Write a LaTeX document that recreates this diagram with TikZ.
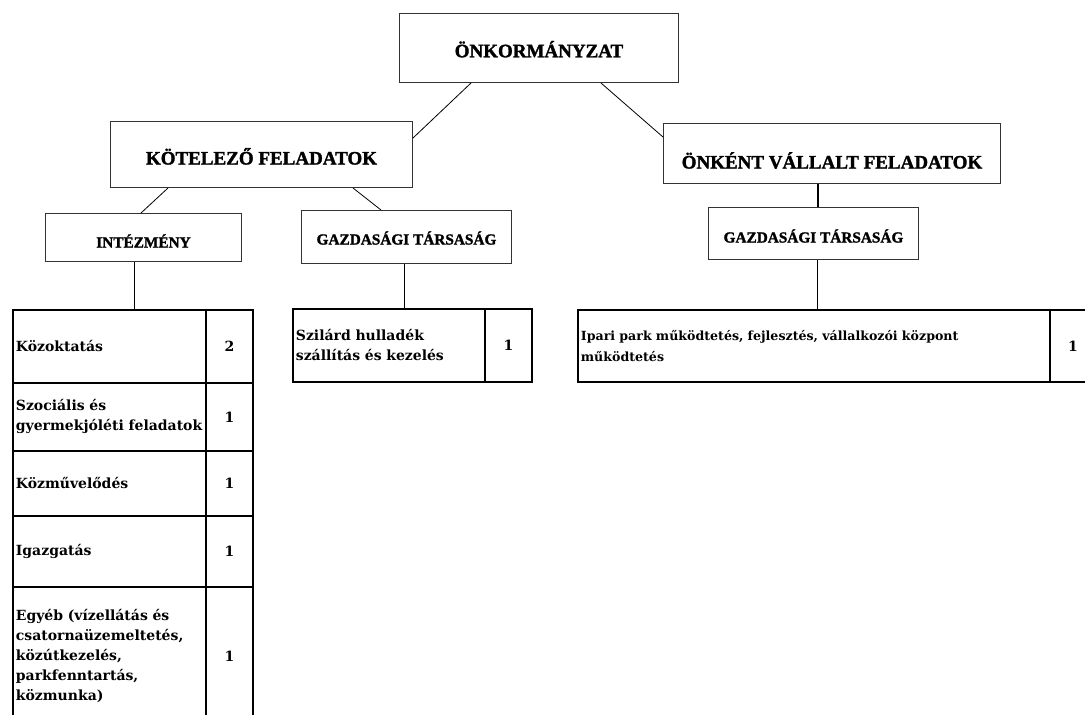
\documentclass[tikz,border=0pt]{standalone}
\usepackage{fontspec}
\setmainfont{Liberation Serif}
\newfontfamily\hfont[FakeBold=1.6]{Liberation Serif Bold}
\newfontfamily\cellfont{DejaVu Serif}
\newcommand\boxtxt[2]{\raisebox{0pt}[#1][0pt]{#2}}
\usetikzlibrary{calc}
\tikzset{
  hbox/.style={draw=black!80, line width=1pt, inner sep=0pt, anchor=north west,
    font=\hfont\fontsize{19}{22}\selectfont},
  sbox/.style={hbox, font=\hfont\fontsize{15.3}{18}\selectfont},
  cellbase/.style={draw=black, line width=1.8pt, inner xsep=3pt, inner ysep=0pt,
    anchor=north west, font=\cellfont\bfseries\fontsize{14}{20}\selectfont},
  cellt/.style={cellbase, text width=#1, align=left},
  numc/.style={cellbase, align=center},
  link/.style={draw=black, line width=0.8pt},
  vlink/.style={draw=black, line width=1.6pt}
}
\begin{document}
\begin{tikzpicture}[x=1pt,y=-1pt]
\path[use as bounding box, clip] (0,0) rectangle (1085,715);
% header boxes
\node[hbox, minimum width=279pt, minimum height=69pt] (top) at (399,13) {\boxtxt{18.5pt}{ÖNKORMÁNYZAT}};
\node[hbox, minimum width=302pt, minimum height=66pt] (kot) at (110,121) {\boxtxt{20pt}{KÖTELEZŐ FELADATOK}};
\node[hbox, minimum width=337pt, minimum height=60pt] (onk) at (663,123) {\boxtxt{30pt}{ÖNKÉNT VÁLLALT FELADATOK}};
\node[sbox, minimum width=196pt, minimum height=48pt] (int) at (45,213) {\boxtxt{20pt}{INTÉZMÉNY}};
\node[sbox, minimum width=210pt, minimum height=53pt] (gmid) at (301,210) {\boxtxt{15pt}{GAZDASÁGI TÁRSASÁG}};
\node[sbox, minimum width=210pt, minimum height=52pt] (grt) at (708,207) {\boxtxt{18pt}{GAZDASÁGI TÁRSASÁG}};
% left table
\node[cellt=187pt, minimum height=73pt] (l1) at (12,309) {Közoktatás};
\node[numc, minimum width=47pt, minimum height=73pt] (n1) at (205,309) {2};
\node[cellt=187pt, minimum height=68pt] (l2) at (12,382) {Szociális és\\\mbox{gyermekjóléti feladatok}};
\node[numc, minimum width=47pt, minimum height=68pt] (n2) at (205,382) {1};
\node[cellt=187pt, minimum height=65pt] (l3) at (12,450) {Közművelődés};
\node[numc, minimum width=47pt, minimum height=65pt] (n3) at (205,450) {1};
\node[cellt=187pt, minimum height=71pt] (l4) at (12,515) {Igazgatás};
\node[numc, minimum width=47pt, minimum height=71pt] (n4) at (205,515) {1};
\node[cellt=187pt, minimum height=138pt] (l5) at (12,586) {Egyéb (vízellátás és\\csatornaüzemeltetés,\\közútkezelés,\\parkfenntartás,\\közmunka)};
\node[numc, minimum width=47pt, minimum height=138pt] (n5) at (205,586) {1};
% middle table
\node[cellt=186pt, minimum height=73pt] (m1) at (292,308) {Szilárd hulladék\\\mbox{szállítás és kezelés}};
\node[numc, minimum width=47pt, minimum height=73pt] (mn1) at (484,308) {1};
% right table
\node[cellt=466pt, minimum height=72pt, font=\cellfont\bfseries\fontsize{12.6}{20.5}\selectfont] (r1) at (577,309) {\mbox{Ipari park működtetés, fejlesztés, vállalkozói központ}\\működtetés};
\node[numc, minimum width=46pt, minimum height=72pt] (rn1) at (1049,309) {1};
% connectors
\draw[link] (top.south -| 471,0) -- (kot.east |- 0,138);
\draw[link] (top.south -| 601,0) -- (onk.west |- 0,137);
\draw[link] (kot.south -| 168,0) -- (int.north -| 141,0);
\draw[link] (kot.south -| 353,0) -- (gmid.north -| 381,0);
\draw[vlink] (onk.south -| 818,0) -- (grt.north -| 818,0);
\draw[link] (int.south -| 134,0) -- (l1.north -| 134,0);
\draw[link] (gmid.south -| 404,0) -- (m1.north -| 404,0);
\draw[link] (grt.south -| 817,0) -- (r1.north -| 817,0);
\end{tikzpicture}
\end{document}
